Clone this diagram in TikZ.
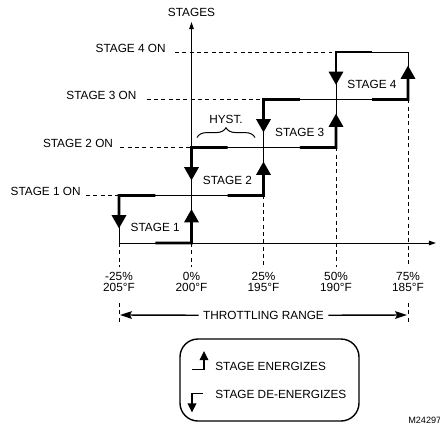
\documentclass[tikz,border=0pt]{standalone}
\usepackage{fontspec}
\setmainfont{Liberation Sans}
\usetikzlibrary{arrows.meta, calc, decorations.pathreplacing}

\newcommand{\stagebox}[5]{% left, top, right, bottom, stage number
    \draw[thinline] (#1,#2) rectangle (#3,#4);
    % de-energize (upper left) and energize (lower right)
    \draw[thickarr] ($(#1,#2)!0.5!(#3,#2)$) -- (#1,#2) -- ++(0,33);
    \draw[thickarr] ($(#1,#4)!0.5!(#3,#4)$) -- (#3,#4) -- ++(0,-34);
    \node[lbl, anchor=base] (stage#5) at ($(#1,#4)!0.5!(#3,#4)+(0,-11.5)$) {STAGE #5};
}

\begin{document}
\begin{tikzpicture}[
    x=0.025cm, y=-0.025cm,
    lbl/.style={font=\fontsize{8.4}{10}\selectfont, inner sep=0},
    thinline/.style={line width=0.7pt},
    thickarr/.style={line width=2.1pt, -{Triangle[length=9.5pt, width=10pt]}},
    dashline/.style={line width=0.6pt, dash pattern=on 2.8pt off 2.4pt},
    axisarr/.style={line width=0.7pt, -{Triangle[length=5pt, width=3.2pt]}},
    rangearr/.style={line width=1pt, -{Stealth[length=8.5pt, width=5.5pt, inset=1.5pt]}},
    legarr/.style={line width=1.4pt, -{Triangle[length=6.5pt, width=6pt]}}
]
\useasboundingbox (0,0) rectangle (440,423);

% ===================================================================
% AXES
% ===================================================================
\draw[axisarr] (191.5,243) -- (191.5,22);
\draw[axisarr] (119,243) -- (436,243);
\node[lbl, anchor=base] (stages) at (191.5,16) {STAGES};

% ===================================================================
% STAGE LEVELS
% ===================================================================
\foreach \n/\y/\xr/\gap/\xb in {4/52/166/9/336, 3/99.5/136.7/10/263.5,
                                2/147.5/113.3/7/191.5, 1/195.5/81/5/119} {
    \node[lbl, anchor=base east] (on\n) at (\xr,\y) {STAGE \n\ ON};
    \draw[dashline] ($(on\n.base east)+(\gap,0)$) -- (\xb,\y);
}

% Vertical guides
\draw[dashline] (263.5,195.5) -- (263.5,267);
\draw[dashline] (336,147.5) -- (336,267);
\draw[dashline] (408,99.5) -- (408,267);
\draw[dashline] (119,243) -- (119,267);
\draw[dashline] (191.5,243) -- (191.5,267);

% Stage boxes
\stagebox{119}{195.5}{191.5}{243}{1}
\stagebox{191.5}{147.5}{263.5}{195.5}{2}
\stagebox{263.5}{99.5}{336}{147.5}{3}
\stagebox{336}{52}{408}{99.5}{4}

% Hysteresis
\draw[thinline, decorate, decoration={brace, amplitude=7pt}]
    (197,137.5) -- (255,137.5);
\node[lbl, anchor=base] (hyst) at (226,123.3) {HYST.};

% ===================================================================
% SCALE
% ===================================================================
\foreach \x/\pct/\temp in {119/-25/205, 191.5/0/200, 263.5/25/195,
                           336/50/190, 408/75/185} {
    \node[lbl, anchor=base] (pct\pct) at (\x,280) {\pct\%};
    \node[lbl, anchor=base] (temp\pct) at (\x,291.5) {\temp°F};
}

% Throttling range
\node[lbl, inner sep=3pt, anchor=base] (thr) at (263.5,319.3) {THROTTLING RANGE};
\draw[dashline] (119,303) -- (119,323);
\draw[dashline] (408,303) -- (408,323);
\draw[rangearr] (thr.west) -- (120,315);
\draw[rangearr] (thr.east) -- (407,315);

% ===================================================================
% LEGEND
% ===================================================================
\draw[line width=1pt, rounded corners=0.45cm] (180,339) rectangle (359,421);
\draw[legarr] (192,369.5) -- (204,369.5) -- (204,351);
\draw[legarr] (203,393.5) -- (192,393.5) -- (192,412.5);
\node[lbl, anchor=base west] (energ) at (215,370) {STAGE ENERGIZES};
\node[lbl, anchor=base west] (deenerg) at (215,398) {STAGE DE-ENERGIZES};

\node[lbl, font=\fontsize{6.5}{7}\selectfont, anchor=base west] (fignum)
    at (408,423) {M24297};

\end{tikzpicture}
\end{document}
